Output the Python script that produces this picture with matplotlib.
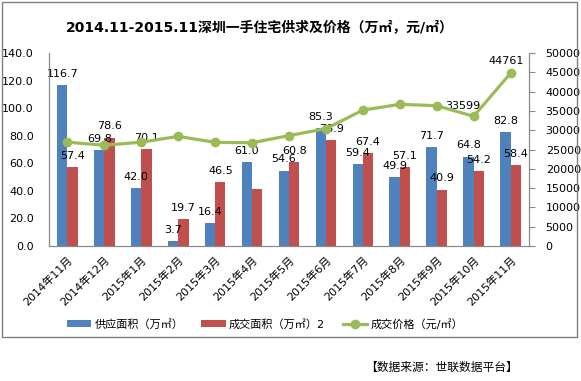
import matplotlib
matplotlib.use("Agg")
import matplotlib.pyplot as plt
import numpy as np
from matplotlib.patches import Rectangle

plt.rcParams['font.family'] = ['DejaVu Sans', 'Noto Sans CJK SC']

months = ["2014年11月", "2014年12月", "2015年1月", "2015年2月", "2015年3月", "2015年4月",
          "2015年5月", "2015年6月", "2015年7月", "2015年8月", "2015年9月", "2015年10月", "2015年11月"]
supply = [116.7, 69.8, 42.0, 3.7, 16.4, 61.0, 54.6, 85.3, 59.4, 49.9, 71.7, 64.8, 82.8]
deal = [57.4, 78.6, 70.1, 19.7, 46.5, 41.0, 60.8, 76.9, 67.4, 57.1, 40.9, 54.2, 58.4]
price = [26900, 26100, 26900, 28400, 26850, 26750, 28600, 30400, 35200, 36700, 36350, 33599, 44761]
deal_labeled = [True, True, True, True, True, False, True, True, True, True, True, True, True]
price_labeled = [False] * 11 + [True, True]

left_ticks = [0, 20, 40, 60, 80, 100, 120, 140]
right_ticks = [0, 5000, 10000, 15000, 20000, 25000, 30000, 35000, 40000, 45000, 50000]

blue = '#4F81BD'
red = '#C0504D'
green = '#9BBB59'
FAM = ['DejaVu Sans', 'Noto Sans CJK SC']

W, H = 581, 381
fig = plt.figure(figsize=(W / 100, H / 100), dpi=100)
ax = fig.add_axes([49 / W, 1 - 246 / H, (529 - 49) / W, (246 - 53) / H])
ax2 = ax.twinx()

x = np.arange(len(months))
bw = 0.28
b1 = ax.bar(x - bw / 2, supply, bw, color=blue, label='供应面积（万㎡）', zorder=2)
b2 = ax.bar(x + bw / 2, deal, bw, color=red, label='成交面积（万㎡）2', zorder=2)
ax.set_xlim(-0.5, len(months) - 0.5)
ax.set_ylim(0, 140)
ax.set_yticks(left_ticks)
ax.set_yticklabels([f"{v:.1f}" for v in left_ticks], fontsize=8)
ax.tick_params(axis='y', length=0, pad=11)
ax.set_xticks(x)
ax.set_xticklabels(months, rotation=45, ha='right', rotation_mode='anchor', fontsize=8)
ax.tick_params(axis='x', length=0, pad=6)

for xi, v in zip(x, supply):
    ax.annotate(f"{v:.1f}", (xi - bw / 2, v), xytext=(0, 4.5), textcoords='offset points',
                ha='center', va='bottom', fontsize=8, zorder=5)
for xi, v, show in zip(x, deal, deal_labeled):
    if show:
        ax.annotate(f"{v:.1f}", (xi + bw / 2, v), xytext=(0, 4.5), textcoords='offset points',
                    ha='center', va='bottom', fontsize=8, zorder=5)

ln, = ax2.plot(x, price, color=green, lw=2.3, marker='o', ms=6, label='成交价格（元/㎡）', zorder=4)
ax2.set_ylim(0, 50000)
ax2.set_yticks(right_ticks)
ax2.set_yticklabels([str(v) for v in right_ticks], fontsize=8)
ax2.tick_params(axis='y', length=4, pad=8, color='#888888')
for xi, v, show in zip(x, price, price_labeled):
    if show:
        off = (-8, 4) if v < 40000 else (-3, 5)
        ax2.annotate(f"{v}", (xi, v), xytext=off, textcoords='offset points',
                     ha='center', va='bottom', fontsize=8)

for a in (ax, ax2):
    a.spines['top'].set_visible(False)
    for s in ['left', 'right', 'bottom']:
        a.spines[s].set_color('#888888')
ax.set_zorder(ax2.get_zorder() - 1)
ax.patch.set_visible(False)
ax2.patch.set_visible(False)

fig.text(260 / W, 1 - 27 / H, "2014.11-2015.11深圳一手住宅供求及价格（万㎡，元/㎡）",
         ha='center', va='center', fontsize=10, fontweight='bold', family=FAM)

fig.legend(handles=[b1, b2, ln], loc='center', bbox_to_anchor=(265 / W, 1 - 324 / H), ncol=3,
           frameon=False, handlelength=2.2, columnspacing=1.6, handletextpad=0.3,
           prop={'family': FAM, 'size': 8})

fig.patches.append(Rectangle((2 / W, 1 - 337 / H), 575 / W, 335 / H, transform=fig.transFigure,
                             fill=False, edgecolor='#808080', lw=1))
fig.text(518 / W, 1 - 367 / H, "【数据来源：世联数据平台】", ha='right', va='center', fontsize=8.5,
         family=['Noto Sans CJK SC'])

fig.savefig('out.png', dpi=100)
